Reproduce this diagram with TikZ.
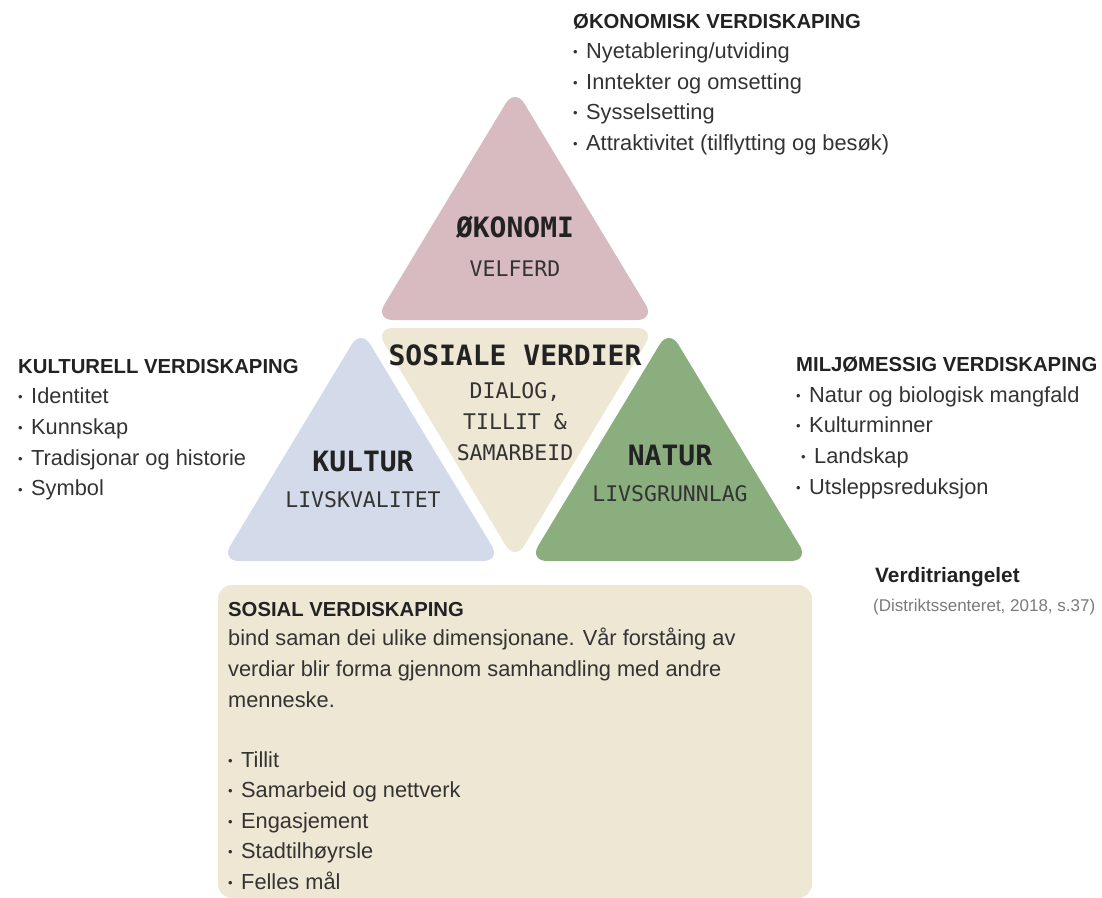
\documentclass[tikz,border=0pt]{standalone}
\usepackage{fontspec}
\setmainfont{Liberation Sans}
\newfontfamily\monofont{DejaVu Sans Mono}
\definecolor{okofill}{HTML}{D8BBC0}
\definecolor{sosfill}{HTML}{EEE7D4}
\definecolor{kulfill}{HTML}{D3DBEA}
\definecolor{natfill}{HTML}{8BAE7F}
\definecolor{textdark}{HTML}{222222}
\definecolor{textbody}{HTML}{333333}
\definecolor{textgray}{HTML}{7A7A7A}
\newcommand\blt{\makebox[13pt][l]{\raisebox{1.8pt}{\fontsize{13}{13}\selectfont•}}}

\begin{document}
\begin{tikzpicture}[x=1pt,y=-1pt,
    tri/.style={rounded corners=18pt},
    head/.style={anchor=base west,inner sep=0pt,text=textdark,font=\bfseries\fontsize{20.3}{24}\selectfont},
    item/.style={anchor=base west,inner sep=0pt,text=textbody,font=\fontsize{21.8}{26}\selectfont},
    bigmono/.style={anchor=base,inner sep=0pt,text=textdark,font=\monofont\bfseries\fontsize{28}{32}\selectfont},
    smallmono/.style={anchor=base,inner sep=0pt,text=textbody,font=\monofont\fontsize{21.5}{26}\selectfont}]
  \useasboundingbox (0,0) rectangle (1102,897);

  \fill[okofill,tri] (515,88) -- (655,320) -- (375,320) -- cycle;
  \fill[sosfill,tri] (375,328) -- (655,328) -- (515,561) -- cycle;
  \fill[kulfill,tri] (361,329) -- (501,561) -- (221,561) -- cycle;
  \fill[natfill,tri] (669,329) -- (809,561) -- (529,561) -- cycle;
  \fill[sosfill,rounded corners=14pt] (218,585) rectangle (812,898);

  \node[bigmono] (okonomi) at (515,237) {ØKONOMI};
  \node[smallmono] (velferd) at (515,276) {VELFERD};
  \node[bigmono] (sosiale) at (515,365) {SOSIALE VERDIER};
  \foreach[count=\i] \t in {{DIALOG,},TILLIT \&,SAMARBEID}
    \node[smallmono] (sos\i) at (515,367+31*\i) {\t};
  \node[bigmono] (kultur) at (363,471) {KULTUR};
  \node[smallmono] (livskval) at (363,507) {LIVSKVALITET};
  \node[bigmono] (natur) at (670,465) {NATUR};
  \node[smallmono] (livsgrunn) at (670,501) {LIVSGRUNNLAG};

  \node[head] (okohead) at (573,28) {ØKONOMISK VERDISKAPING};
  \foreach[count=\i] \t in {Nyetablering/utviding,Inntekter og omsetting,Sysselsetting,Attraktivitet (tilflytting og besøk)}
    \node[item] (oko\i) at (573,28+30.5*\i) {\blt\t};

  \node[head] (kulhead) at (18,373) {KULTURELL VERDISKAPING};
  \foreach[count=\i] \t in {Identitet,Kunnskap,Tradisjonar og historie,Symbol}
    \node[item] (kul\i) at (18,373+30.7*\i) {\blt\t};

  \node[head] (milhead) at (796,371) {MILJØMESSIG VERDISKAPING};
  \node[item] (mil1) at (796,402) {\blt Natur og biologisk mangfald};
  \node[item] (mil2) at (796,432) {\blt Kulturminner};
  \node[item] (mil3) at (801,463) {\blt Landskap};
  \node[item] (mil4) at (796,494) {\blt Utsleppsreduksjon};

  \node[head,font=\bfseries\fontsize{20.8}{24}\selectfont] (title) at (875,582) {Verditriangelet};
  \node[item,text=textgray,font=\fontsize{17}{20}\selectfont] (source) at (873,611) {(Distriktssenteret, 2018, s.37)};

  \node[head] (soshead) at (228,616) {SOSIAL VERDISKAPING};
  \node[item] (sostext1) at (228,645) {bind saman dei ulike dimensjonane. Vår forståing av};
  \node[item] (sostext2) at (228,676) {verdiar blir forma gjennom samhandling med andre};
  \node[item] (sostext3) at (228,707) {menneske.};
  \foreach[count=\i] \t in {Tillit,Samarbeid og nettverk,Engasjement,Stadtilhøyrsle,Felles mål}
    \node[item] (sosb\i) at (228,736.5+30.5*\i) {\blt\t};
\end{tikzpicture}
\end{document}
